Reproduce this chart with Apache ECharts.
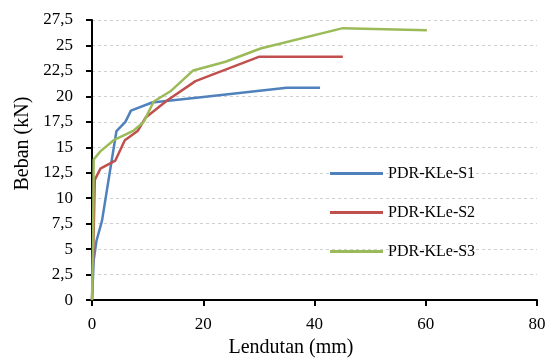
<!DOCTYPE html>
<html>
<head>
<meta charset="utf-8">
<script src="https://cdn.jsdelivr.net/npm/echarts@6/dist/echarts.min.js"></script>
<style>html,body{margin:0;padding:0;background:#fff}#c{width:550px;height:363px}</style>
</head>
<body>
<div id="c"></div>
<script>
const seriesNames = ['PDR-KLe-S1', 'PDR-KLe-S2', 'PDR-KLe-S3'];
const s1 = [[0,0],[0.3,3.9],[0.8,5.8],[1.8,7.8],[3.3,12.9],[4.4,16.6],[6,17.5],[7,18.6],[10.8,19.4],[20,19.95],[35,20.85],[41,20.85]];
const s2 = [[0,0],[0.2,4],[0.5,11.8],[1.5,12.9],[4.2,13.7],[5.9,15.7],[8.2,16.6],[9.6,17.9],[13.5,19.6],[18.6,21.5],[30.1,23.9],[45.1,23.9]];
const s3 = [[0,0],[0.2,6],[0.3,13.8],[1.5,14.6],[3.9,15.7],[7.5,16.65],[9.3,17.5],[11.1,19.5],[14.1,20.5],[18.2,22.55],[24,23.4],[30.3,24.7],[45.1,26.7],[60.2,26.5]];
const xTicks = [0, 20, 40, 60, 80];
const yTicks = [0, 2.5, 5, 7.5, 10, 12.5, 15, 17.5, 20, 22.5, 25, 27.5];
const xTitle = 'Lendutan (mm)';
const yTitle = 'Beban (kN)';
const colors = ['#4F81BD', '#C0504D', '#9BBB59'];

const font = 'Liberation Serif';
const chart = echarts.init(document.getElementById('c'));
const allData = [s1, s2, s3];
chart.setOption({
  animation: false,
  grid: { left: 92, right: 13, top: 20, bottom: 56 },
  legend: {
    orient: 'vertical', left: 330, top: 165, padding: 0,
    icon: 'rect', itemWidth: 53, itemHeight: 3, itemGap: 22,
    textStyle: { fontFamily: font, fontSize: 16, color: '#000', lineHeight: 17 },
    data: seriesNames
  },
  xAxis: {
    type: 'value', min: xTicks[0], max: xTicks[xTicks.length - 1], interval: xTicks[1] - xTicks[0],
    name: xTitle, nameLocation: 'middle', nameGap: 36,
    nameTextStyle: { fontFamily: font, fontSize: 20, color: '#000', padding: [0, 47, 0, 0] },
    axisLine: { show: true, lineStyle: { color: '#000', width: 2 } },
    axisTick: { show: true, length: 6, lineStyle: { color: '#000', width: 2 } },
    axisLabel: { fontFamily: font, fontSize: 17, color: '#000', margin: 16 },
    splitLine: { show: false }
  },
  yAxis: {
    type: 'value', min: yTicks[0], max: yTicks[yTicks.length - 1], interval: yTicks[1] - yTicks[0],
    name: yTitle, nameLocation: 'middle', nameGap: 57, nameRotate: 90,
    nameTextStyle: { fontFamily: font, fontSize: 20, color: '#000', padding: [0, 0, 0, 33] },
    axisLine: { show: true, lineStyle: { color: '#000', width: 2 } },
    axisTick: { show: true, length: 6, lineStyle: { color: '#000', width: 2 } },
    axisLabel: { fontFamily: font, fontSize: 17, color: '#000', margin: 19,
      formatter: v => String(v).replace('.', ',') },
    splitLine: { show: true, lineStyle: { color: '#d0d0d0', type: [3, 3], width: 1 } }
  },
  series: allData.map((d, i) => ({
    name: seriesNames[i], type: 'line', data: d, symbol: 'none',
    lineStyle: { color: colors[i], width: 2.5 }, itemStyle: { color: colors[i] }
  }))
});
</script>
</body>
</html>
